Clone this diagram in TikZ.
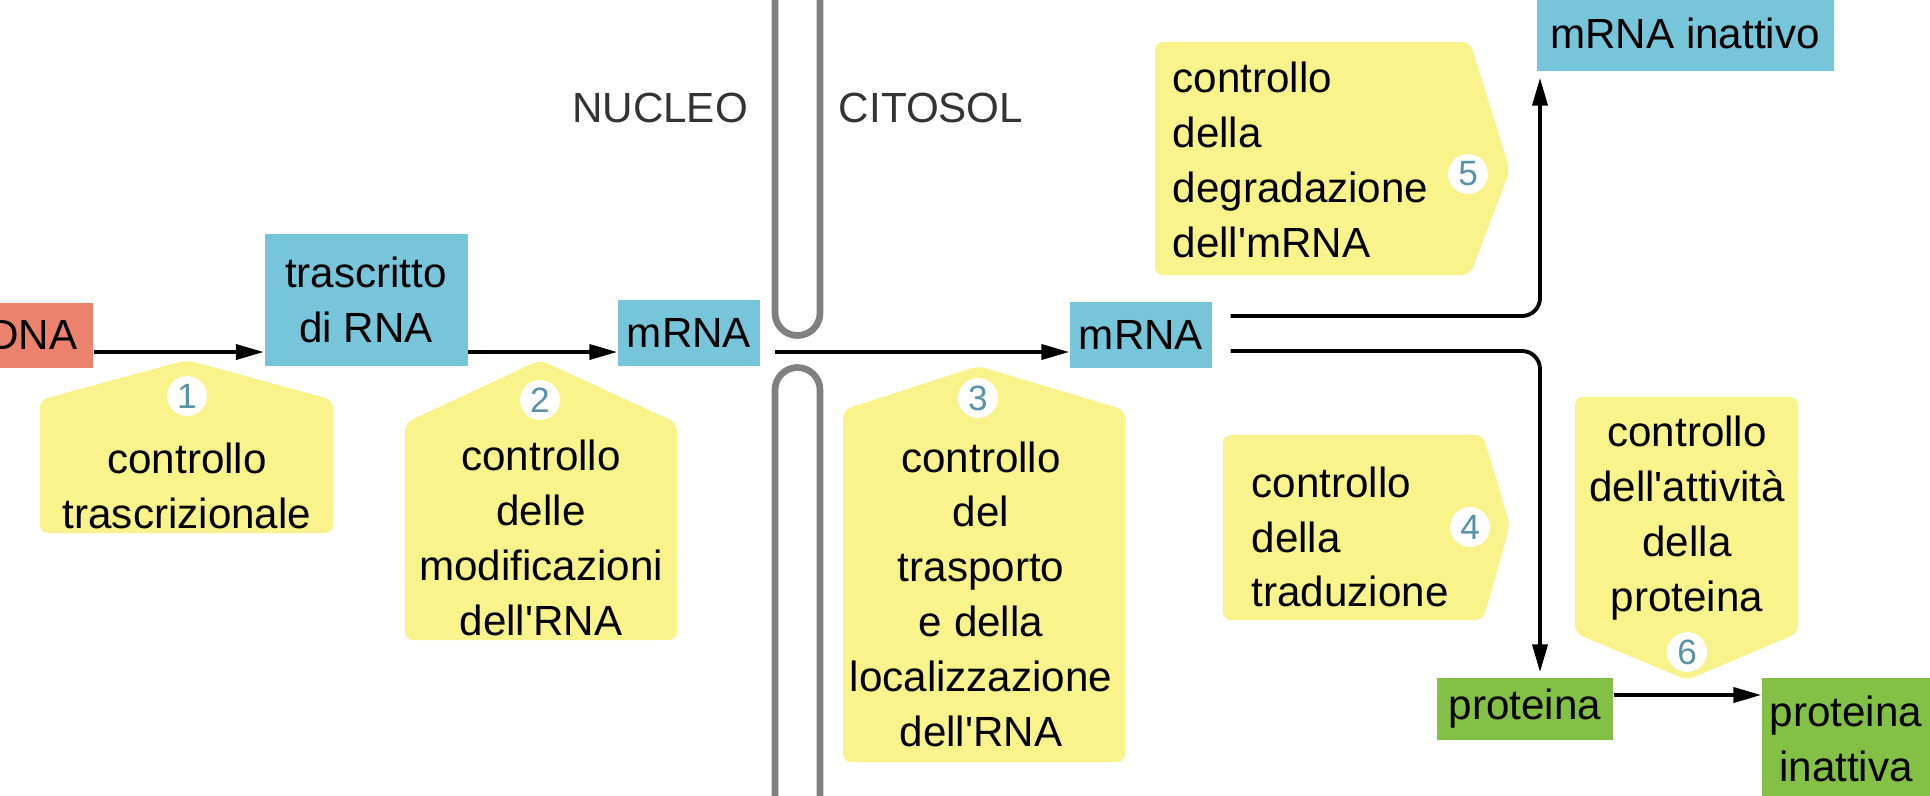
\documentclass[tikz,border=0pt]{standalone}
\usepackage{xcolor}
\usepackage{fontspec}
\setmainfont{Liberation Sans}
\usepackage{tikz}
\usetikzlibrary{arrows.meta}

\definecolor{dnared}{RGB}{236,130,110}
\definecolor{rnablue}{RGB}{118,197,219}
\definecolor{protgreen}{RGB}{130,192,70}
\definecolor{ctrlyellow}{RGB}{248,243,138}
\definecolor{stepteal}{RGB}{88,146,165}
\definecolor{membgray}{RGB}{128,128,128}

\begin{document}
\begin{tikzpicture}[x=0.1mm,y=-0.1mm,font=\fontsize{12}{15.6}\selectfont,
  mol/.style={inner sep=0pt,minimum height=6.5mm,align=center},
  note/.style={fill=ctrlyellow,rounded corners=0.8mm},
  ctrl/.style={inner sep=0pt,align=center},
  num/.style={circle,fill=white,inner sep=0pt,minimum size=4mm,text=stepteal,font=\fontsize{10}{12}\selectfont},
  arr/.style={-{Triangle[length=2.8mm,width=1.5mm]},line width=1.1pt},
  memb/.style={membgray,line width=1.9pt}]
\useasboundingbox (0,0) rectangle (1930,795);
\clip (0,0) rectangle (1930,795);
\fill[white] (0,0) rectangle (1930,795);

\draw[memb] (775,-20) -- (775,313) arc[start angle=180,end angle=0,radius=22.5] -- (820,-20);
\draw[memb] (775,820) -- (775,390) arc[start angle=180,end angle=360,radius=22.5] -- (820,820);

\fill[note] (40,400) -- (187,360) -- (333,400) -- (333,533) -- (40,533) -- cycle;
\fill[note] (405,423) -- (540,360) -- (677,423) -- (677,640) -- (405,640) -- cycle;
\fill[note] (843,410) -- (978,366) -- (1125,410) -- (1125,762) -- (843,762) -- cycle;
\fill[note] (1155,42) -- (1470,42) -- (1510,170) -- (1470,275) -- (1155,275) -- cycle;
\fill[note] (1223,435) -- (1483,435) -- (1510,525) -- (1483,620) -- (1223,620) -- cycle;
\fill[note] (1575,397) -- (1798,397) -- (1798,633) -- (1687,680) -- (1575,633) -- cycle;

\node[mol,fill=dnared,minimum width=12mm] (dna) at (33,335) {DNA};
\node[mol,fill=rnablue,minimum width=20.3mm,minimum height=13.2mm] (tr) at (366,300) {trascritto\\di RNA};
\node[mol,fill=rnablue,minimum width=14.2mm,minimum height=6.6mm] (m1) at (689,333) {mRNA};
\node[mol,fill=rnablue,minimum width=14.2mm,minimum height=6.6mm] (m2) at (1141,335) {mRNA};
\node[mol,fill=rnablue,minimum width=29.7mm,minimum height=7.6mm] (mi) at (1685,33) {mRNA inattivo};
\node[mol,fill=protgreen,minimum width=17.6mm,minimum height=6.2mm] (p) at (1525,709) {proteina};
\node[mol,fill=protgreen,minimum width=16.8mm,minimum height=12.2mm] (pi) at (1846,739) {proteina\\inattiva};

\node[text=black!80] (nuc) at (660,108) {NUCLEO};
\node[text=black!80] (cit) at (931,108) {CITOSOL};

\node[ctrl] (t1) at (187,486) {controllo\\trascrizionale};
\node[ctrl] (t2) at (541,538) {controllo\\delle\\modificazioni\\dell\textquotesingle RNA};
\node[ctrl] (t3) at (981,594) {controllo\\del\\trasporto\\e della\\localizzazione\\dell\textquotesingle RNA};
\node[ctrl,align=left,anchor=west] (t5) at (1172,160) {controllo\\della\\degradazione\\dell\textquotesingle mRNA};
\node[ctrl,align=left,anchor=west] (t4) at (1251,537) {controllo\\della\\traduzione};
\node[ctrl] (t6) at (1687,518) {controllo\\dell\textquotesingle attività\\della\\proteina};

\node[num] (n1) at (187,396) {1};
\node[num] (n2) at (540,400) {2};
\node[num] (n3) at (978,398) {3};
\node[num] (n4) at (1470,527) {4};
\node[num] (n5) at (1468,174) {5};
\node[num] (n6) at (1687,652) {6};

\coordinate (ax) at (0,352);
\coordinate (pore) at (775,352);
\coordinate (fork) at (1540,316);
\coordinate (fork2) at (1540,351);
\coordinate (act) at (0,695);
\draw[arr] (dna.east |- ax) -- (tr.west |- ax);
\draw[arr] (tr.east |- ax) -- (m1.west |- ax);
\draw[arr] (pore) -- (m2.west |- pore);
\draw[arr,rounded corners=1.8mm,shorten <=1.8mm,shorten >=0.6mm] (m2.east |- fork) -| (mi.south -| fork);
\draw[arr,rounded corners=1.8mm,shorten <=1.8mm,shorten >=0.5mm] (m2.east |- fork2) -| (p.north -| fork2);
\draw[arr] (p.east |- act) -- (pi.west |- act);
\end{tikzpicture}
\end{document}
